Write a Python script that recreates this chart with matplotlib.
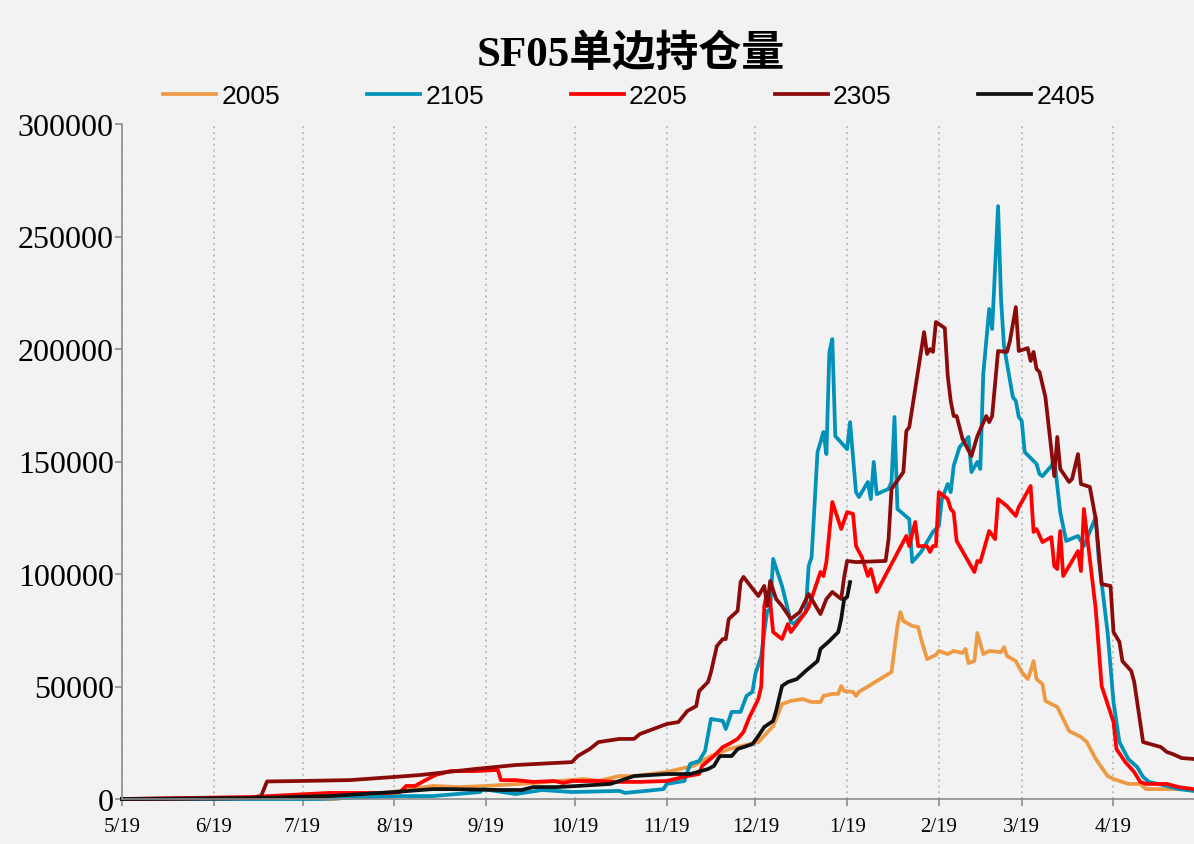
import matplotlib
matplotlib.use("Agg")
import matplotlib.pyplot as plt
import pandas as pd

# days counted from 5/19, open interest values
START = pd.Timestamp("2022-05-19")

oi_2005 = [(0, 0), (72, 0), (94, 3600), (105, 5800), (114, 5300), (123, 5800), (139, 7100), (156, 8900),
           (161, 8000), (168, 10200), (173, 10200), (184, 12000), (193, 14700), (199, 19100), (205, 22200),
           (215, 25300), (220, 32400), (223, 42200), (226, 43600), (230, 44400), (233, 43100), (236, 43100),
           (237, 45800), (240, 46700), (242, 46700), (243, 50200), (244, 48000), (247, 47600), (248, 45800),
           (249, 47600), (260, 56400), (262, 76900), (263, 83100), (264, 79100), (267, 76900), (269, 76400),
           (270, 71100), (271, 66700), (272, 62200), (275, 64000), (276, 65800), (279, 64400), (281, 65800),
           (284, 64900), (285, 66700), (286, 60400), (288, 61300), (289, 73800), (291, 64400), (293, 65800),
           (297, 65300), (298, 67500), (299, 63600), (302, 61300), (304, 56400), (306, 53300), (307, 56900),
           (308, 61300), (309, 53300), (311, 51100), (312, 43600), (316, 40900), (318, 35600), (320, 30200),
           (324, 27600), (326, 25300), (329, 17800), (333, 10200), (335, 8900), (340, 6700), (344, 6700),
           (346, 4400), (360, 4400)]

oi_2105 = [(0, 0), (66, 0), (94, 1300), (105, 1300), (113, 2200), (121, 3100), (122, 4400), (133, 2200),
           (142, 4000), (152, 3100), (168, 3600), (170, 2700), (183, 4400), (184, 6700), (190, 8000),
           (192, 15600), (195, 16900), (197, 21300), (199, 35600), (203, 34700), (204, 31100), (206, 38700),
           (209, 38700), (211, 45800), (213, 47600), (214, 55600), (216, 63600), (217, 74200), (218, 83500),
           (219, 84400), (220, 106700), (223, 94700), (226, 78700), (227, 77800), (231, 83100), (232, 103500),
           (233, 107500), (235, 154200), (237, 163100), (238, 153300), (239, 198700), (240, 204400),
           (241, 161300), (245, 155500), (246, 167500), (248, 136400), (249, 134200), (252, 140900),
           (253, 133300), (254, 149800), (255, 135500), (259, 137800), (260, 140900), (261, 169800),
           (262, 128900), (266, 124400), (267, 105300), (270, 109800), (274, 118700), (276, 121300),
           (277, 133300), (279, 140000), (280, 136400), (281, 148000), (283, 156400), (286, 160900),
           (287, 145300), (289, 149800), (290, 146700), (291, 188900), (293, 217800), (294, 208900),
           (296, 263500), (297, 222200), (298, 201300), (301, 178600), (302, 176900), (303, 169800),
           (304, 168000), (305, 154200), (309, 148900), (310, 144400), (311, 143500), (314, 148000),
           (315, 151100), (317, 127500), (319, 114700), (323, 116900), (325, 112400), (329, 125300),
           (330, 106700), (333, 74200), (335, 43100), (337, 25300), (340, 17800), (343, 14200), (345, 9800),
           (347, 7600), (353, 5800), (357, 4400), (362, 3600)]

oi_2205 = [(0, 0), (44, 900), (70, 2700), (91, 2700), (94, 3100), (96, 5800), (99, 5800), (102, 8000),
           (106, 10700), (111, 12400), (119, 12400), (127, 12900), (128, 8400), (133, 8400), (139, 7600),
           (146, 8000), (149, 7100), (152, 8000), (161, 8000), (167, 7600), (175, 7600), (184, 8000),
           (191, 10200), (195, 11100), (196, 14700), (200, 19100), (203, 23100), (205, 24400), (208, 26700),
           (210, 29800), (212, 36400), (215, 44400), (216, 50200), (217, 85800), (218, 92000), (219, 87600),
           (220, 74200), (223, 71100), (225, 77800), (226, 74200), (231, 83100), (232, 85300), (236, 100900),
           (237, 99100), (238, 105300), (240, 132000), (243, 120000), (245, 127500), (247, 126700),
           (248, 112400), (250, 107500), (252, 99100), (253, 102200), (255, 92000), (265, 116900),
           (266, 112400), (268, 123100), (269, 112400), (272, 112400), (273, 109800), (274, 112400),
           (275, 112400), (276, 136400), (279, 133300), (280, 128900), (281, 127500), (282, 114700),
           (288, 100900), (289, 105800), (290, 105300), (293, 119100), (295, 115500), (296, 133300),
           (299, 130200), (302, 125800), (303, 129800), (304, 132000), (307, 139100), (308, 118700),
           (309, 120000), (311, 114200), (314, 116400), (315, 103500), (316, 102200), (317, 119100),
           (318, 99100), (323, 110200), (324, 101300), (325, 128900), (327, 106700), (329, 84400),
           (331, 50200), (335, 34200), (336, 22200), (339, 16400), (342, 12000), (344, 7600), (346, 6700),
           (353, 6700), (357, 5300), (362, 4400)]

oi_2305 = [(0, 0), (43, 400), (47, 1300), (49, 7800), (60, 8000), (77, 8400), (92, 9800), (101, 10700),
           (110, 12000), (119, 13300), (133, 15100), (152, 16400), (154, 19100), (158, 22200), (161, 25300),
           (168, 26700), (173, 26700), (175, 28900), (184, 33300), (188, 34200), (191, 39100), (194, 41300),
           (195, 48000), (198, 52000), (199, 56400), (201, 68000), (203, 71100), (204, 71100), (205, 80000),
           (208, 83600), (209, 96400), (210, 98700), (215, 90200), (217, 94700), (218, 85800), (219, 96900),
           (221, 88900), (223, 85800), (226, 80000), (229, 83100), (232, 91100), (236, 82200), (238, 88900),
           (240, 92000), (243, 88900), (244, 98700), (245, 105800), (248, 105300), (258, 105800),
           (259, 115500), (260, 137800), (264, 145300), (265, 163500), (266, 165300), (268, 182200),
           (271, 207500), (272, 197800), (273, 200000), (274, 198700), (275, 212000), (278, 209300),
           (279, 188000), (280, 176900), (281, 170200), (282, 170200), (284, 160000), (287, 152400),
           (289, 161300), (292, 170200), (293, 167500), (294, 170200), (296, 199100), (299, 198700),
           (300, 203500), (302, 218600), (303, 199100), (306, 200400), (307, 194700), (308, 198700),
           (309, 191100), (310, 189800), (312, 178600), (315, 143500), (316, 160900), (317, 146700),
           (320, 140900), (321, 142200), (323, 153300), (324, 140000), (327, 138700), (329, 124400),
           (331, 95500), (334, 94700), (335, 74200), (337, 69800), (338, 61300), (341, 56900), (342, 52000),
           (345, 25300), (351, 23100), (353, 20900), (355, 20000), (358, 18200), (362, 17800)]

oi_2405 = [(0, 0), (44, 400), (70, 1300), (92, 3100), (105, 4400), (111, 4400), (128, 4000), (135, 4000),
           (139, 5300), (147, 5300), (154, 5800), (165, 6700), (168, 8000), (173, 10200), (184, 11100),
           (192, 11100), (198, 13300), (200, 14700), (202, 19100), (206, 19100), (208, 22200), (213, 24400),
           (215, 28000), (217, 32000), (220, 34700), (221, 39100), (223, 50200), (225, 52000), (228, 53300),
           (231, 56900), (235, 61300), (236, 66700), (239, 70200), (242, 74200), (243, 80000), (244, 88900),
           (245, 89800), (246, 96400)]

names = ["2005", "2105", "2205", "2305", "2405"]
colors = ["#EE9944", "#0092B9", "#FF0000", "#8B0A0A", "#111111"]
series = [oi_2005, oi_2105, oi_2205, oi_2305, oi_2405]
y_ticks = [0, 50000, 100000, 150000, 200000, 250000, 300000]

bg = "#F2F2F2"
fig = plt.figure(figsize=(11.94, 8.45), dpi=100, facecolor=bg)
ax = fig.add_axes([122 / 1194, 45 / 845, 1 - 122 / 1194, 675 / 845])
ax.set_facecolor(bg)

for name, pts, c in zip(names, series, colors):
    d, v = zip(*pts)
    x = START + pd.to_timedelta(list(d), unit="D")
    ax.plot(x, v, color=c, lw=2.7, label=name, clip_on=False)

month_ticks = [START + pd.DateOffset(months=i) for i in range(12)]
ax.set_xticks(month_ticks)
ax.set_xticklabels([f"{t.month}/{t.day}" for t in month_ticks])
ax.set_xlim(START, START + pd.Timedelta(days=362.2))
ax.set_ylim(0, 300000)
ax.set_yticks(y_ticks)
ax.set_yticklabels([str(v) for v in y_ticks])

ax.xaxis.grid(True, linestyle=(0, (1, 2)), color="#BDBDBD", lw=1.4)
for s in ["top", "right"]:
    ax.spines[s].set_visible(False)
for s in ["left", "bottom"]:
    ax.spines[s].set_color("#8C8C8C")
    ax.spines[s].set_linewidth(1.2)
ax.tick_params(axis="both", direction="out", color="#8C8C8C", length=5, width=1.2)
ax.tick_params(axis="x", pad=8)
ax.tick_params(axis="y", pad=1)
for lab in ax.get_xticklabels():
    lab.set_family("Liberation Serif")
    lab.set_fontsize(15)
for lab in ax.get_yticklabels():
    lab.set_family("Liberation Serif")
    lab.set_fontsize(23)

fig.text(0.528, 1 - 55 / 845, "SF05单边持仓量", ha="center", va="center", fontsize=31,
         fontweight="bold", family=["Liberation Serif", "Noto Sans CJK SC"])

fig.legend(loc="center", bbox_to_anchor=(0.527, 1 - 97 / 845), ncol=5, frameon=False,
           prop={"family": "Liberation Sans", "size": 19},
           handlelength=2.0, handletextpad=0.2, columnspacing=3.3)

fig.savefig("out.png", dpi=100, facecolor=bg)
